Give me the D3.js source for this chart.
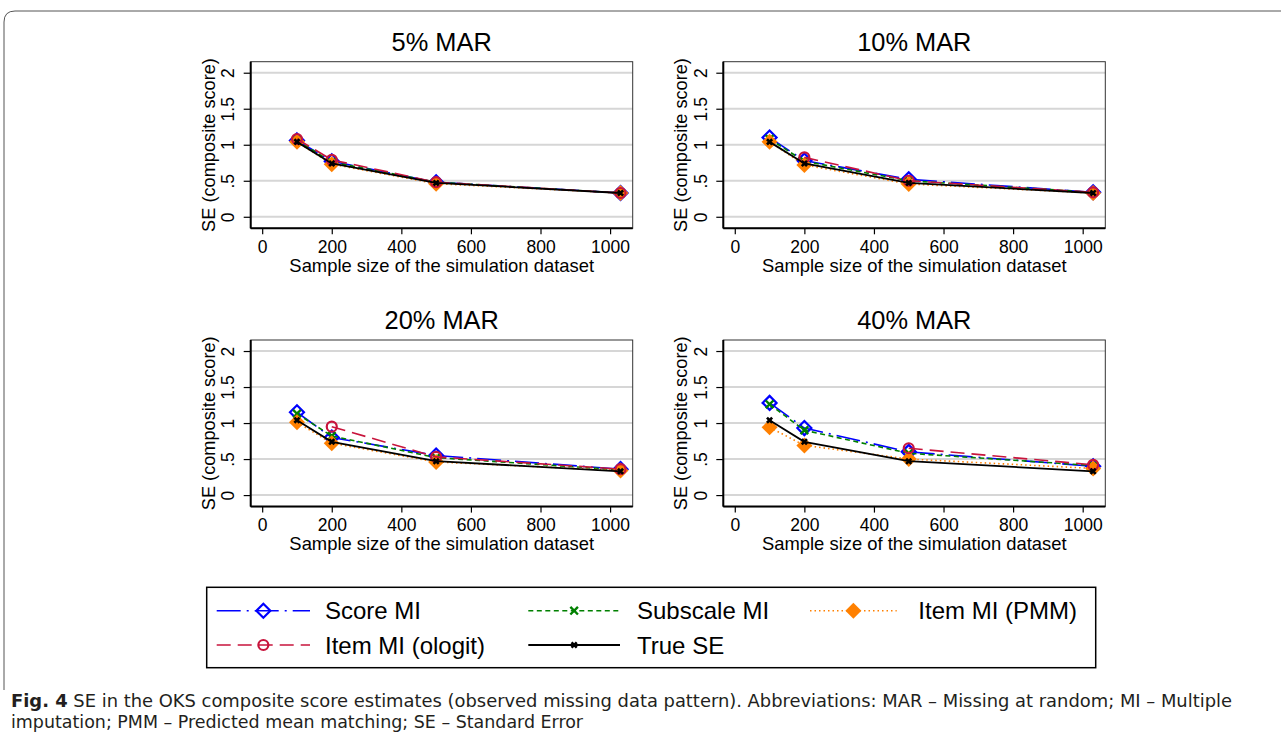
<!DOCTYPE html>
<meta charset="utf-8">
<style>
body { margin: 0; background: #fff; }
text { font-family: "Liberation Sans", Arial, Helvetica, sans-serif; fill: #000; }
.grid line { stroke: #d6d6d6; stroke-width: 2; }
.caption { font-family: "Liberation Sans Narrow", "DejaVu Sans Condensed", "Liberation Sans", sans-serif; fill: #231f20; font-size: 17.5px; }
</style>
<body>
<script src="https://d3js.org/d3.v7.min.js"></script>
<script>

// ---- data ----
var sampleSizes = [100, 200, 500, 1030];
var panelTitles = ["5% MAR", "10% MAR", "20% MAR", "40% MAR"];
var yTicks = [0, 0.5, 1, 1.5, 2];
var xTicks = [0, 200, 400, 600, 800, 1000];

// one row per panel (5%, 10%, 20%, 40%), one value per sample size
var scoreMI = [
    [1.06, 0.77, 0.48, 0.33],
    [1.10, 0.78, 0.52, 0.34],
    [1.15, 0.80, 0.55, 0.36],
    [1.28, 0.93, 0.60, 0.40]
];
var subscaleMI = [
    [1.06, 0.76, 0.48, 0.33],
    [1.08, 0.77, 0.50, 0.34],
    [1.13, 0.82, 0.52, 0.35],
    [1.26, 0.90, 0.58, 0.41]
];
var itemPMM = [
    [1.04, 0.73, 0.46, 0.33],
    [1.04, 0.72, 0.455, 0.33],
    [1.01, 0.72, 0.46, 0.34],
    [0.94, 0.69, 0.50, 0.37]
];
// ologit did not give estimates for the small samples at higher missingness
var itemOlogit = [
    [1.08, 0.79, 0.48, 0.33],
    [null, 0.825, 0.50, 0.34],
    [null, 0.95, 0.53, 0.36],
    [null, null, 0.65, 0.42]
];
var trueSE = [1.04, 0.74, 0.47, 0.33];

var W = 1281, H = 735;
var FONT = "Liberation Sans, Arial, Helvetica, sans-serif";

var svg = d3.select("body").append("svg")
    .attr("width", W)
    .attr("height", H);

// outer frame of the figure box
svg.append("path")
    .attr("d", "M4,690 V22 Q4,11 15,11 H1281")
    .attr("fill", "none")
    .attr("stroke", "#555")
    .attr("stroke-width", 1);

// series styles, drawn in this order
var series = [
    {name: "Score MI", values: scoreMI, color: "#0000ff", dash: "24,6,2,6", marker: "diamond"},
    {name: "Subscale MI", values: subscaleMI, color: "#008000", dash: "5,3.5", marker: "cross"},
    {name: "Item MI (PMM)", values: itemPMM, color: "#ff8000", dash: "1.5,3", marker: "filledDiamond"},
    {name: "Item MI (ologit)", values: itemOlogit, color: "#c8143c", dash: "14,7", marker: "circle"},
    {name: "True SE", values: sampleSizes.map(function() { return trueSE; }), color: "#000", dash: null, marker: "smallX"}
];

function drawMarker(g, type, color, x, y) {
    if (type == "diamond") {
        var s = 7;
        g.append("path").attr("d", "M" + x + "," + (y - s) + "L" + (x + s) + "," + y + "L" + x + "," + (y + s) + "L" + (x - s) + "," + y + "Z")
            .attr("fill", "none").attr("stroke", color).attr("stroke-width", 2.2);
    } else if (type == "filledDiamond") {
        var s = 8;
        g.append("path").attr("d", "M" + x + "," + (y - s) + "L" + (x + s) + "," + y + "L" + x + "," + (y + s) + "L" + (x - s) + "," + y + "Z")
            .attr("fill", color).attr("stroke", "none");
    } else if (type == "circle") {
        g.append("circle").attr("cx", x).attr("cy", y).attr("r", 5)
            .attr("fill", "none").attr("stroke", color).attr("stroke-width", 2.2);
    } else if (type == "cross") {
        var s = 3.8;
        g.append("path").attr("d", "M" + (x - s) + "," + (y - s) + "L" + (x + s) + "," + (y + s) + "M" + (x - s) + "," + (y + s) + "L" + (x + s) + "," + (y - s))
            .attr("stroke", color).attr("stroke-width", 2.4);
    } else {
        var s = 2.6;
        g.append("path").attr("d", "M" + (x - s) + "," + (y - s) + "L" + (x + s) + "," + (y + s) + "M" + (x - s) + "," + (y + s) + "L" + (x + s) + "," + (y - s))
            .attr("stroke", color).attr("stroke-width", 2.6);
    }
}

// plot region size and panel positions
var pw = 382, ph = 166.6;
var panelPos = [[250.7, 61.7], [723.3, 61.7], [250.7, 340], [723.3, 340]];

var x = d3.scaleLinear().domain([-33, 1065]).range([0, pw]);
var y = d3.scaleLinear().domain([-0.16, 2.153]).range([ph, 0]);

function fmt(d) { return d === 0 ? "0" : String(d).replace(/^0/, ""); }

panelTitles.forEach(function(title, p) {
    var g = svg.append("g")
        .attr("transform", "translate(" + panelPos[p][0] + "," + panelPos[p][1] + ")");

    // grid lines
    g.append("g").attr("class", "grid")
        .selectAll("line").data(yTicks).enter().append("line")
        .attr("x1", 0).attr("x2", pw)
        .attr("y1", function(d) { return y(d); })
        .attr("y2", function(d) { return y(d); });

    // frame
    g.append("rect").attr("width", pw).attr("height", ph)
        .attr("fill", "none").attr("stroke", "#333").attr("stroke-width", 1);

    // x axis
    var xa = g.append("g").attr("transform", "translate(0," + ph + ")")
        .call(d3.axisBottom(x).tickValues(xTicks).tickSize(6).tickPadding(6).tickFormat(d3.format("d")))
        .attr("font-family", FONT).attr("font-size", 17.5);
    xa.select(".domain").attr("stroke-width", 2).attr("d", "M0,0H" + pw);
    xa.selectAll(".tick line").attr("stroke-width", 1.2);

    // y axis, labels rotated like Stata
    var ya = g.append("g")
        .call(d3.axisLeft(y).tickValues(yTicks).tickSize(7).tickFormat(fmt))
        .attr("font-family", FONT).attr("font-size", 17.5);
    ya.select(".domain").attr("stroke-width", 2).attr("d", "M0,0V" + ph);
    ya.selectAll(".tick line").attr("stroke-width", 1.2);
    ya.selectAll("text")
        .attr("x", null).attr("dy", null)
        .attr("text-anchor", "middle")
        .attr("transform", "translate(-23,0) rotate(-90) translate(0,6.3)");

    // axis titles and panel title
    g.append("text").attr("x", pw / 2).attr("y", ph + 43.4)
        .attr("text-anchor", "middle").attr("font-size", "18.4px")
        .text("Sample size of the simulation dataset");
    g.append("text")
        .attr("transform", "translate(-42.7," + (ph / 2) + ") rotate(-90)")
        .attr("dy", "0.36em")
        .attr("text-anchor", "middle").attr("font-size", "18.2px")
        .text("SE (composite score)");
    g.append("text").attr("x", pw / 2).attr("y", -11)
        .attr("text-anchor", "middle").attr("font-size", "25.4px")
        .text(title);

    // series lines then markers
    series.forEach(function(s) {
        var pts = sampleSizes.map(function(n, i) { return {n: n, v: s.values[p][i]}; });
        var line = d3.line()
            .defined(function(d) { return d.v != null; })
            .x(function(d) { return x(d.n); })
            .y(function(d) { return y(d.v); });
        g.append("path").datum(pts)
            .attr("d", line)
            .attr("fill", "none")
            .attr("stroke", s.color)
            .attr("stroke-width", s.marker == "smallX" ? 1.8 : 1.6)
            .attr("stroke-dasharray", s.dash);
        pts.forEach(function(d) {
            if (d.v != null) drawMarker(g, s.marker, s.color, x(d.n), y(d.v));
        });
    });
});

// ---- legend ----
var leg = svg.append("g");
leg.append("rect").attr("x", 206.7).attr("y", 587.3).attr("width", 889).attr("height", 80.4)
    .attr("fill", "none").attr("stroke", "#000").attr("stroke-width", 1.5);

var legPos = [
    {x1: 216.7, x2: 310, tx: 325, y: 610.7},
    {x1: 528.3, x2: 620, tx: 637, y: 610.7},
    {x1: 810, x2: 896.7, tx: 918.3, y: 610.7},
    {x1: 216.7, x2: 310, tx: 325, y: 645},
    {x1: 528.3, x2: 620, tx: 637, y: 645}
];

series.forEach(function(s, i) {
    var lp = legPos[i];
    leg.append("line")
        .attr("x1", lp.x1).attr("x2", lp.x2).attr("y1", lp.y).attr("y2", lp.y)
        .attr("stroke", s.color).attr("stroke-width", s.marker == "smallX" ? 1.8 : 1.6)
        .attr("stroke-dasharray", s.dash);
    drawMarker(leg, s.marker, s.color, (lp.x1 + lp.x2) / 2, lp.y);
    leg.append("text").attr("x", lp.tx).attr("y", lp.y).attr("dy", "0.36em")
        .attr("font-size", "24px").text(s.name);
});

// ---- caption ----
var c1 = svg.append("text").attr("class", "caption").attr("x", 11).attr("y", 707)
    .attr("textLength", 1221).attr("lengthAdjust", "spacingAndGlyphs");
c1.append("tspan").attr("font-weight", "bold").text("Fig. 4");
c1.append("tspan").text(" SE in the OKS composite score estimates (observed missing data pattern). Abbreviations: MAR \u2013 Missing at random; MI \u2013 Multiple");
svg.append("text").attr("class", "caption").attr("x", 11).attr("y", 728)
    .attr("textLength", 572).attr("lengthAdjust", "spacingAndGlyphs")
    .text("imputation; PMM \u2013 Predicted mean matching; SE \u2013 Standard Error");

</script>
</body>
